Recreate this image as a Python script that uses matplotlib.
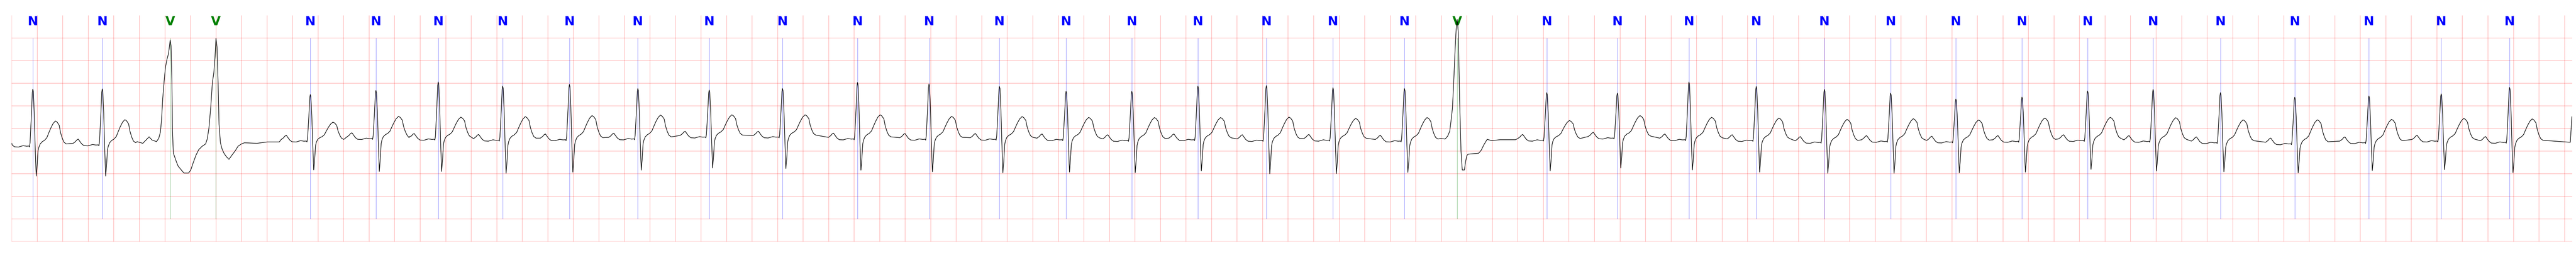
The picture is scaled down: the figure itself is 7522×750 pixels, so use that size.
import numpy as np
import matplotlib
matplotlib.use("Agg")
from matplotlib import pyplot as plt

# beat annotations (time in s, symbol)
beat_t = [0.165, 0.709, 1.241, 1.599, 2.339, 2.853, 3.341, 3.846, 4.369, 4.905,
          5.464, 6.038, 6.626, 7.186, 7.738, 8.260, 8.775, 9.293, 9.829, 10.351,
          10.911, 11.324, 12.026, 12.579, 13.140, 13.667, 14.201, 14.720, 15.231,
          15.749, 16.263, 16.776, 17.304, 17.886, 18.467, 19.033, 19.569]
beat_sym = "NNVVNNNNNNNNNNNNNNNNNVNNNNNNNNNNNNNNN"

# per beat levels (None for ectopic beats, drawn from their own traces)
beat_base = [-0.39, -0.364, None, None, -0.279, -0.224, -0.24, -0.26, -0.25, -0.232,
             -0.19, -0.19, -0.232, -0.24, -0.24, -0.25, -0.267, -0.25, -0.267, -0.26,
             -0.279, None, -0.26, -0.213, -0.25, -0.267, -0.308, -0.286, -0.30,
             -0.286, -0.267, -0.286, -0.315, -0.34, -0.315, -0.279, -0.307]
beat_r = [0.869, 0.874, None, None, 0.748, 0.839, 1.027, 0.936, 0.972, 0.881,
          0.849, 0.881, 1.015, 0.983, 0.928, 0.82, 0.82, 0.936, 0.946, 0.90,
          0.881, None, 0.791, 0.78, 1.027, 0.928, 0.863, 0.78, 0.649,
          0.692, 0.827, 0.863, 0.791, 0.689, 0.718, 0.765, 0.907]
beat_s = [-1.055, -1.055, None, None, -0.919, -0.953, -0.953, -0.992, -0.967, -0.924,
          -0.877, -0.888, -0.924, -0.96, -0.985, -0.967, -0.978, -0.938, -1.004, -1.0,
          -0.974, None, -0.938, -0.877, -0.92, -0.967, -0.992, -0.992, -0.985,
          -0.967, -0.906, -0.942, -0.96, -0.985, -0.931, -0.913, -0.978]
beat_tw = [0.164, 0.193, None, None, 0.138, 0.265, 0.248, 0.26, 0.283, 0.294,
           0.30, 0.30, 0.30, 0.265, 0.261, 0.243, 0.24, 0.24, 0.25, 0.222,
           0.24, None, 0.174, 0.283, 0.245, 0.229, 0.20, 0.214, 0.186,
           0.229, 0.245, 0.237, 0.189, 0.19, 0.20, 0.221, 0.21]

# normal beat shape read from the first beats (offset from R in s, level above baseline)
tpl_dt = [-0.228, -0.210, -0.199, -0.188, -0.174, -0.161, -0.143, -0.112, -0.076, -0.049, -0.030, -0.026,
          -0.0215, -0.0107, -0.0038, 0.0, 0.0043, 0.0115,
          0.0188, 0.0268, 0.0338, 0.0411, 0.0472,
          0.058, 0.074, 0.092, 0.110, 0.126, 0.141, 0.159, 0.177, 0.1905, 0.2066, 0.2173, 0.2307, 0.2442, 0.2619]
tpl_rel = [0.034, 0.071, 0.109, 0.127, 0.071, 0.021, -0.017, -0.022, 0.008, -0.004, 0.0, -0.02,
           0.072, 0.704, 1.183, 1.259, 1.208, 0.704,
           -0.054, -0.665, -0.433, -0.105, -0.029,
           0.047, 0.097, 0.128, 0.185, 0.299, 0.40, 0.501, 0.557, 0.532, 0.463, 0.299, 0.173, 0.085, 0.047]
tpl_kind = "bbbbbbbbbbbb" + "rrrrrr" + "sssss" + "tttttttttttttt"

# the two early ventricular beats
v1_t = [0.982, 1.027, 1.076, 1.098, 1.134, 1.152, 1.165, 1.174, 1.183, 1.194, 1.204, 1.216,
        1.228, 1.234, 1.241, 1.248, 1.255, 1.259, 1.266, 1.277, 1.291, 1.304, 1.322, 1.349,
        1.385, 1.402, 1.420, 1.443, 1.465, 1.492, 1.519, 1.532, 1.545, 1.559, 1.572, 1.583,
        1.593, 1.600, 1.608, 1.617, 1.624, 1.635, 1.648, 1.662, 1.680, 1.702, 1.724, 1.751,
        1.773, 1.800, 1.823, 1.921, 2.001, 2.096]
v1_v = [-0.293, -0.33, -0.186, -0.255, -0.293, -0.217, -0.078, 0.212, 0.667, 1.045, 1.348, 1.525,
        1.652, 1.778, 1.955, 1.829, 0.97, -0.04, -0.545, -0.633, -0.747, -0.836, -0.898, -0.987,
        -0.987, -0.924, -0.773, -0.595, -0.47, -0.394, -0.343, -0.23, 0.011, 0.465, 1.02, 1.223,
        1.601, 1.993, 1.803, 0.97, 0.087, -0.318, -0.457, -0.545, -0.621, -0.684, -0.595, -0.495,
        -0.394, -0.343, -0.318, -0.33, -0.30, -0.30]

# the later ventricular beat
v2_t = [11.194, 11.230, 11.250, 11.266, 11.277, 11.287, 11.297, 11.308, 11.316, 11.324,
        11.333, 11.343, 11.354, 11.364, 11.381, 11.390, 11.400, 11.410, 11.446, 11.492,
        11.513, 11.532, 11.559, 11.594, 11.661, 11.742, 11.781]
v2_v = [-0.224, -0.235, -0.169, -0.061, 0.193, 0.446, 1.027, 1.751, 2.187, 2.41,
        2.114, 0.664, -0.494, -0.92, -0.92, -0.732, -0.6, -0.57, -0.56, -0.55,
        -0.48, -0.369, -0.242, -0.27, -0.25, -0.25, -0.25]

# start and end of the strip
edge_t = [0.0, 20.045, 20.057]
edge_v = [-0.33, -0.307, 0.258]

sym_color = {"N": "blue", "V": "green"}
ref = {"r": 1.259, "s": -0.665, "t": 0.557}

xs = list(edge_t) + v1_t + v2_t
ys = list(edge_v) + v1_v + v2_v
for bt, sym, base, r, s, tw in zip(beat_t, beat_sym, beat_base, beat_r, beat_s, beat_tw):
    if sym != "N":
        continue
    target = {"r": r - base, "s": s - base, "t": tw - base}
    for dt, rel, k in zip(tpl_dt, tpl_rel, tpl_kind):
        x = bt + dt
        if x <= 0:
            continue
        f = 1.0 if k == "b" else target[k] / ref[k]
        xs.append(x)
        ys.append(base + rel * f)
order = np.argsort(xs, kind="stable")
xs = np.array(xs)[order]
ys = np.array(ys)[order]

fig = plt.figure(figsize=(75.22, 7.5), dpi=100)
ax = fig.add_axes([0.00456, 0.0604, 0.99398, 0.88])

ax.set_xlim(0, 20.06)
ax.set_ylim(-2.5, 2.5)
ax.set_xticks(np.arange(0, 20.01, 0.2))
ax.set_yticks(np.arange(-2.5, 2.01, 0.5))
ax.grid(True, color="red", alpha=0.25, lw=1.3)
ax.tick_params(length=0, labelbottom=False, labelleft=False)
for sp in ax.spines.values():
    sp.set_visible(False)

ax.plot(xs, ys, color="black", lw=1.2, zorder=3)

cols = [sym_color[s] for s in beat_sym]
ax.vlines(beat_t, -2, 2, colors=cols, lw=0.8, alpha=0.5, zorder=2)
for bt, sym in zip(beat_t, beat_sym):
    ax.text(bt, 2.5, sym, color=sym_color[sym], ha="center", va="top",
            fontsize=26.5, fontweight="bold",
            family=["Liberation Sans Narrow", "DejaVu Sans"], zorder=2)

fig.savefig("out.png", dpi=100)
